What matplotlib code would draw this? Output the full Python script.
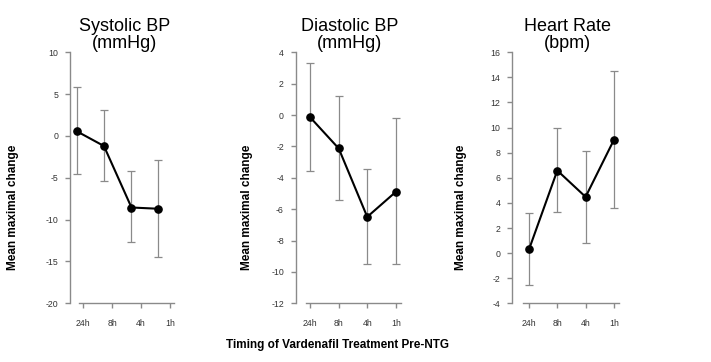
import matplotlib
matplotlib.use("Agg")
import matplotlib.pyplot as plt

plt.rcParams['font.family'] = ['Liberation Sans', 'DejaVu Sans']
plt.rcParams['axes.unicode_minus'] = False

timing = ['24h', '8h', '4h', '1h']

# systolic BP (mmHg)
sys_x = [0.79, 1.72, 2.67, 3.6]
sys_mean = [0.55, -1.2, -8.55, -8.7]
sys_hi = [5.9, 3.1, -4.2, -2.9]
sys_lo = [-4.6, -5.4, -12.7, -14.5]

# diastolic BP (mmHg)
dia_x = [1, 2, 3, 4]
dia_mean = [-0.15, -2.13, -6.49, -4.9]
dia_hi = [3.34, 1.21, -3.43, -0.17]
dia_lo = [-3.55, -5.43, -9.5, -9.5]

# heart rate (bpm)
hr_x = [1, 2, 3, 4]
hr_mean = [0.29, 6.58, 4.48, 9.02]
hr_hi = [3.18, 9.95, 8.17, 14.54]
hr_lo = [-2.55, 3.29, 0.82, 3.63]

W, H = 711, 362
fig = plt.figure(figsize=(W / 100, H / 100), dpi=100)

panels = [
    # title, x, mean, hi, lo, ylim, yticks, left px, px per step, xlim, x-axis bounds, ylabel x px
    ('Systolic BP\n(mmHg)', sys_x, sys_mean, sys_hi, sys_lo, (-20, 10), range(-20, 11, 5),
     70, 29.0, (0.55, 4.3), (0.86, 4.14), 13),
    ('Diastolic BP\n(mmHg)', dia_x, dia_mean, dia_hi, dia_lo, (-12, 4), range(-12, 5, 2),
     295.7, 28.5, (0.49, 4.3), (0.85, 4.2), 247),
    ('Heart Rate\n(bpm)', hr_x, hr_mean, hr_hi, hr_lo, (-4, 16), range(-4, 17, 2),
     512.3, 28.3, (0.41, 4.3), (0.79, 4.19), 461),
]

top_px, bot_px = 52.3, 303.3
grey = '#8a8a8a'

for (title, x, m, hi, lo, ylim, yticks, left, step, xlim, xb, ylx) in panels:
    w = (xlim[1] - xlim[0]) * step
    ax = fig.add_axes([left / W, 1 - bot_px / H, w / W, (bot_px - top_px) / H])
    ax.set_xlim(*xlim)
    ax.set_ylim(*ylim)
    yerr = [[mi - l for mi, l in zip(m, lo)], [h - mi for mi, h in zip(m, hi)]]
    ax.errorbar(x, m, yerr=yerr, fmt='none', ecolor=grey, elinewidth=0.9,
                capsize=3, capthick=0.9, zorder=2)
    ax.plot(x, m, color='black', lw=1.5, marker='o', ms=5.2, zorder=3)

    for s in ['top', 'right']:
        ax.spines[s].set_visible(False)
    for s in ['left', 'bottom']:
        ax.spines[s].set_color(grey)
        ax.spines[s].set_linewidth(1.0)
    ax.spines['bottom'].set_bounds(*xb)
    ax.set_xticks(range(1, 5))
    ax.set_xticklabels(timing)
    ax.set_yticks(list(yticks))
    ax.tick_params(colors=grey, length=3.5, width=1.0, labelsize=6.3, labelcolor='#333333')
    ax.tick_params(axis='x', pad=8)
    ax.tick_params(axis='y', pad=5)
    ax.patch.set_alpha(0)

    fig.text((left + w / 2) / W, 1 - 35 / H, title, ha='center', va='center',
             fontsize=13, linespacing=1.05)
    fig.text(ylx / W, 1 - 207 / H, 'Mean maximal change', rotation=90,
             ha='center', va='center', fontsize=8.5, fontweight='bold')

fig.text(338 / W, 1 - 345 / H, 'Timing of Vardenafil Treatment Pre-NTG',
         ha='center', va='center', fontsize=8.5, fontweight='bold')

fig.savefig('out.png', dpi=100)
